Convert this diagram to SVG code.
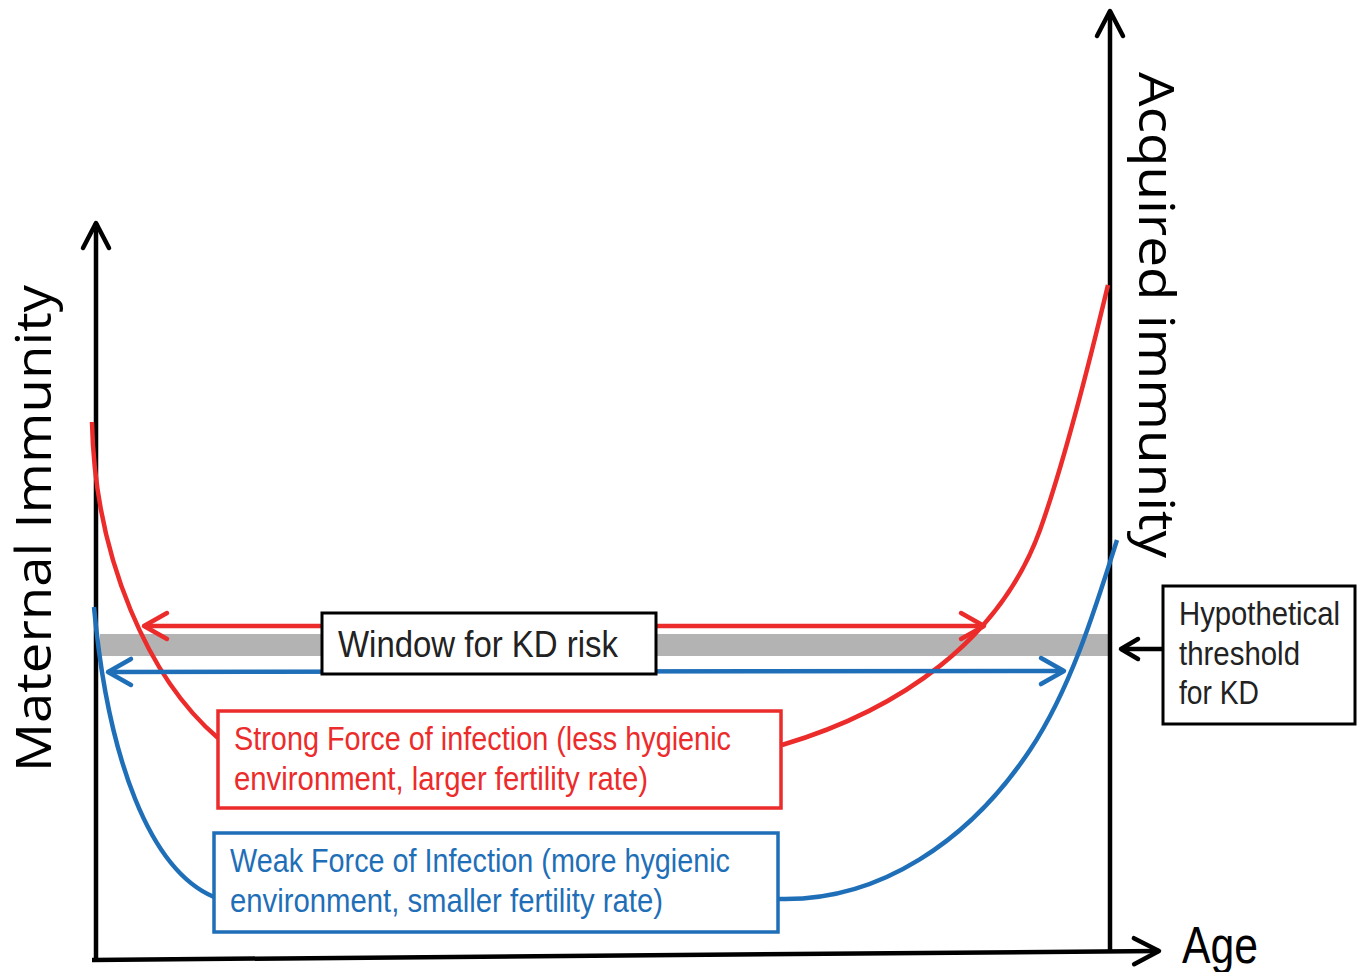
<svg xmlns="http://www.w3.org/2000/svg" width="1364" height="972" viewBox="0 0 1364 972">
<style>
.ax{stroke:#000;stroke-width:4.5;fill:none;stroke-linecap:butt}
.red{stroke:#EC2B2B;stroke-width:4.5;fill:none}
.blue{stroke:#1F6FB8;stroke-width:4.5;fill:none}
.t{font-family:"Liberation Sans Narrow","Liberation Sans","DejaVu Sans Condensed",sans-serif}
.lab{font-family:"Open Sans","Liberation Sans",sans-serif;font-size:50px;fill:#000}
.bk{fill:#fff;stroke:#000;stroke-width:3}
.rb{fill:#fff;stroke:#EC2B2B;stroke-width:3.5}
.bb{fill:#fff;stroke:#1F6FB8;stroke-width:3.5}
</style>
<defs>
<marker id="mk" viewBox="-30 -16 34 32" refX="0" refY="0" markerWidth="34" markerHeight="32" markerUnits="userSpaceOnUse" orient="auto-start-reverse" overflow="visible"><path d="M-25,-13 L0,0 L-25,13" fill="none" stroke="#000" stroke-width="4.5" stroke-linecap="round" stroke-linejoin="round"/></marker>
<marker id="mks" viewBox="-30 -16 34 32" refX="0" refY="0" markerWidth="34" markerHeight="32" markerUnits="userSpaceOnUse" orient="auto-start-reverse" overflow="visible"><path d="M-17,-10 L0,0 L-17,10" fill="none" stroke="#000" stroke-width="4.5" stroke-linecap="round" stroke-linejoin="round"/></marker>
<marker id="mr" viewBox="-30 -16 34 32" refX="0" refY="0" markerWidth="34" markerHeight="32" markerUnits="userSpaceOnUse" orient="auto-start-reverse" overflow="visible"><path d="M-23,-13 L0,0 L-23,13" fill="none" stroke="#EC2B2B" stroke-width="4.5" stroke-linecap="round" stroke-linejoin="round"/></marker>
<marker id="mb" viewBox="-30 -16 34 32" refX="0" refY="0" markerWidth="34" markerHeight="32" markerUnits="userSpaceOnUse" orient="auto-start-reverse" overflow="visible"><path d="M-23,-13 L0,0 L-23,13" fill="none" stroke="#1F6FB8" stroke-width="4.5" stroke-linecap="round" stroke-linejoin="round"/></marker>
</defs>
<rect width="1364" height="972" fill="#fff"/>

<g id="threshold-band">
<rect x="100" y="634" width="1010" height="22" fill="#B3B3B3"/>
</g>

<g id="axes">
<line class="ax" x1="96" y1="962" x2="96" y2="223" marker-end="url(#mk)"/>
<line class="ax" x1="1110" y1="952" x2="1110" y2="11" marker-end="url(#mk)"/>
<line class="ax" x1="92" y1="960" x2="1159" y2="951" marker-end="url(#mk)"/>
</g>

<g id="connectors">
<path class="red" d="M92,422 C95,560 150,680 218,738"/>
<path class="red" d="M782,745 C900,710 1000,640 1040,530 C1065,460 1090,360 1108,285"/>
<path class="blue" d="M94,607 C108,760 150,870 214,897"/>
<path class="blue" d="M778,899 C880,902 970,840 1030,750 C1070,690 1095,610 1117,540"/>
<line class="red" x1="144" y1="626" x2="984" y2="626" marker-start="url(#mr)" marker-end="url(#mr)"/>
<line class="blue" x1="108" y1="672" x2="1064" y2="671" marker-start="url(#mb)" marker-end="url(#mb)"/>
<line class="ax" x1="1162" y1="649" x2="1121" y2="649" marker-end="url(#mks)"/>
</g>

<g id="window-label">
<rect class="bk" x="322" y="613" width="334" height="61"/>
<text class="t" x="338" y="657" font-size="36" textLength="280" lengthAdjust="spacingAndGlyphs" fill="#222">Window for KD risk</text>
</g>

<g id="threshold-label">
<rect class="bk" x="1163" y="586" width="192" height="138"/>
<text class="t" font-size="33" fill="#222">
<tspan x="1179" y="625" textLength="161" lengthAdjust="spacingAndGlyphs">Hypothetical</tspan>
<tspan x="1179" y="665" textLength="121" lengthAdjust="spacingAndGlyphs">threshold</tspan>
<tspan x="1179" y="704" textLength="80" lengthAdjust="spacingAndGlyphs">for KD</tspan>
</text>
</g>

<g id="strong-label">
<rect class="rb" x="218" y="711" width="563" height="97"/>
<text class="t" font-size="33" fill="#EC2B2B">
<tspan x="234" y="750" textLength="497" lengthAdjust="spacingAndGlyphs">Strong Force of infection (less hygienic</tspan>
<tspan x="234" y="790" textLength="414" lengthAdjust="spacingAndGlyphs">environment, larger fertility rate)</tspan>
</text>
</g>

<g id="weak-label">
<rect class="bb" x="214" y="833" width="564" height="99"/>
<text class="t" font-size="33" fill="#1F6FB8">
<tspan x="230" y="872" textLength="500" lengthAdjust="spacingAndGlyphs">Weak Force of Infection (more hygienic</tspan>
<tspan x="230" y="912" textLength="433" lengthAdjust="spacingAndGlyphs">environment, smaller fertility rate)</tspan>
</text>
</g>

<g id="axis-labels">
<text class="lab" transform="translate(51,772) rotate(-90)" textLength="487" lengthAdjust="spacingAndGlyphs">Maternal Immunity</text>
<text class="lab" transform="translate(1139,72) rotate(90)" textLength="486" lengthAdjust="spacingAndGlyphs">Acquired immunity</text>
<text class="t" x="1182" y="963" font-size="52" textLength="76" lengthAdjust="spacingAndGlyphs" fill="#000">Age</text>
</g>
</svg>
